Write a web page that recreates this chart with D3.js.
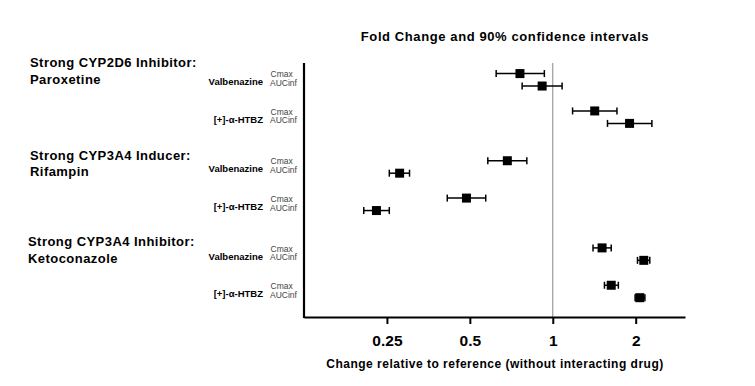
<!DOCTYPE html>
<html>
<head>
<meta charset="utf-8">
<script src="https://cdn.jsdelivr.net/npm/d3@7"></script>
<style>
  body { margin: 0; background: #fff; }
  svg { font-family: "Liberation Sans", Arial, sans-serif; }
</style>
</head>
<body>
<svg id="chart" width="755" height="386"></svg>
<script>
// groups of interacting drugs
const groups = [
  ["Strong CYP2D6 Inhibitor:", "Paroxetine"],
  ["Strong CYP3A4 Inducer:", "Rifampin"],
  ["Strong CYP3A4 Inhibitor:", "Ketoconazole"]
]
const analytes = ["Valbenazine", "[+]-\u03b1-HTBZ"]
const params = ["Cmax", "AUCinf"]

// fold change estimates, 12 rows (group x analyte x param)
const estimate = [0.76, 0.915, 1.42, 1.90, 0.684, 0.278, 0.486, 0.229, 1.51, 2.14, 1.63, 2.07]
const ciLow    = [0.623, 0.774, 1.18, 1.58, 0.581, 0.255, 0.414, 0.206, 1.40, 2.03, 1.54, 1.99]
const ciHigh   = [0.932, 1.081, 1.71, 2.29, 0.805, 0.302, 0.571, 0.255, 1.63, 2.25, 1.73, 2.16]

const xTicks = [0.25, 0.5, 1, 2]

const svg = d3.select('#chart')

// row slots: pairs 1 apart, analytes 3 apart, groups 7 apart
const slot = (g, a, p) => g * 7 + a * 3 + p
const rows = []
groups.forEach((gr, g) => {
  analytes.forEach((an, a) => {
    params.forEach((pm, p) => {
      const i = rows.length
      rows.push({g, a, p, u: slot(g, a, p), est: estimate[i], lo: ciLow[i], hi: ciHigh[i]})
    })
  })
})

const x = d3.scaleLog().base(2).domain([0.125, 3.02]).range([304, 685])
const y = d3.scaleLinear().domain([-0.85, 19.55]).range([63, 317])

// title
svg.append('text')
  .attr('x', 505).attr('y', 40.5)
  .attr('text-anchor', 'middle')
  .style('font-size', '13px').style('font-weight', 'bold')
  .style('letter-spacing', '0.6px')
  .text('Fold Change and 90% confidence intervals')

// reference line at 1
svg.append('line')
  .attr('x1', x(1)).attr('x2', x(1))
  .attr('y1', y.range()[0]).attr('y2', y.range()[1])
  .attr('stroke', '#888').attr('stroke-width', 1)

// x axis
const xAxis = svg.append('g')
  .attr('transform', `translate(0,${y.range()[1]})`)
  .call(d3.axisBottom(x).tickValues(xTicks).tickFormat(d3.format('')).tickSize(7).tickSizeOuter(0))
xAxis.select('.domain').attr('stroke', '#000').attr('stroke-width', 2.2)
xAxis.selectAll('.tick line').attr('stroke', '#000').attr('stroke-width', 2)
xAxis.selectAll('.tick text')
  .attr('dy', '1.25em')
  .style('font-size', '15.5px').style('font-weight', 'bold')
  .style('font-family', '"Liberation Sans", Arial, sans-serif')
  .attr('fill', '#000')

// y axis line only
svg.append('line')
  .attr('x1', 304).attr('x2', 304)
  .attr('y1', y.range()[0]).attr('y2', y.range()[1] + 1.1)
  .attr('stroke', '#000').attr('stroke-width', 2.2)

svg.append('text')
  .attr('x', 495).attr('y', 368)
  .attr('text-anchor', 'middle')
  .style('font-size', '12px').style('font-weight', 'bold')
  .style('letter-spacing', '0.5px')
  .text('Change relative to reference (without interacting drug)')

// group labels
const groupOffset = [-6.5, -0.8, -1.5]
groups.forEach((gr, g) => {
  const y0 = y(slot(g, 0, 0)) + groupOffset[g]
  const x0 = g == 2 ? 28 : 30
  const t = svg.append('text')
    .attr('x', x0).attr('y', y0)
    .style('font-size', '13px').style('font-weight', 'bold')
    .style('letter-spacing', '0.45px')
  t.append('tspan').attr('x', x0).text(gr[0])
  t.append('tspan').attr('x', x0).attr('dy', 16.5).text(gr[1])
})

// analyte and parameter labels
groups.forEach((gr, g) => {
  analytes.forEach((an, a) => {
    const mid = (y(slot(g, a, 0)) + y(slot(g, a, 1))) / 2
    svg.append('text')
      .attr('x', 263).attr('y', mid + 5.5)
      .attr('text-anchor', 'end')
      .style('font-size', '9.5px').style('font-weight', 'bold')
      .text(an)
    svg.append('text')
      .attr('x', 270.5).attr('y', mid - 2.5)
      .style('font-size', '8.5px').attr('fill', '#444')
      .text(params[0])
    svg.append('text')
      .attr('x', 270).attr('y', mid + 6.3)
      .style('font-size', '8.5px').attr('fill', '#444')
      .text(params[1])
  })
})

// error bars
const bars = svg.append('g').selectAll('g')
  .data(rows)
  .enter()
  .append('g')

bars.append('line')
  .attr('x1', d => x(d.lo)).attr('x2', d => x(d.hi))
  .attr('y1', d => y(d.u)).attr('y2', d => y(d.u))
  .attr('stroke', '#000').attr('stroke-width', 1.5)
bars.append('line')
  .attr('x1', d => x(d.lo)).attr('x2', d => x(d.lo))
  .attr('y1', d => y(d.u) - 3.5).attr('y2', d => y(d.u) + 3.5)
  .attr('stroke', '#000').attr('stroke-width', 1.5)
bars.append('line')
  .attr('x1', d => x(d.hi)).attr('x2', d => x(d.hi))
  .attr('y1', d => y(d.u) - 3.5).attr('y2', d => y(d.u) + 3.5)
  .attr('stroke', '#000').attr('stroke-width', 1.5)
bars.append('rect')
  .attr('x', d => x(d.est) - 4.5).attr('y', d => y(d.u) - 4.5)
  .attr('width', 9).attr('height', 9)
  .attr('fill', '#000')
</script>
</body>
</html>
